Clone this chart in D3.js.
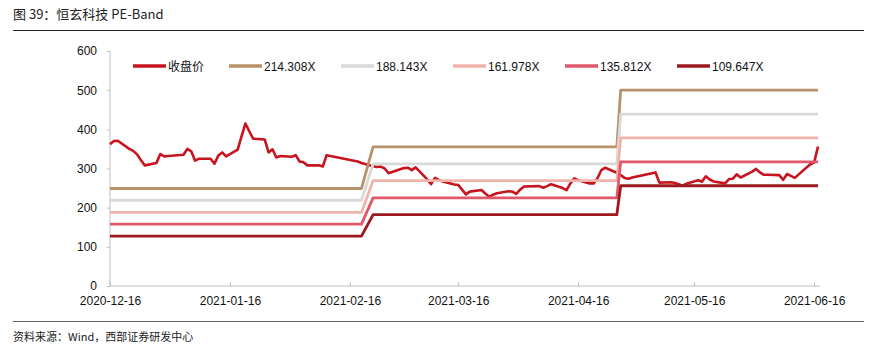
<!DOCTYPE html>
<html><head><meta charset="utf-8">
<script src="https://cdn.jsdelivr.net/npm/d3@7"></script>
<style>body{margin:0;background:#fff}svg{display:block}</style>
</head><body><svg id="c" width="877" height="357"></svg>
<script>
// ---- data ----
const closeDates = ["2020-12-16","2020-12-17","2020-12-18","2020-12-21","2020-12-22","2020-12-23","2020-12-24","2020-12-25","2020-12-28","2020-12-29","2020-12-30","2020-12-31",
"2021-01-04","2021-01-05","2021-01-06","2021-01-07","2021-01-08","2021-01-11","2021-01-12","2021-01-13","2021-01-14","2021-01-15","2021-01-18","2021-01-19","2021-01-20","2021-01-21","2021-01-22","2021-01-25","2021-01-26","2021-01-27","2021-01-28","2021-01-29",
"2021-02-01","2021-02-02","2021-02-03","2021-02-04","2021-02-05","2021-02-08","2021-02-09","2021-02-10","2021-02-18","2021-02-19","2021-02-22","2021-02-23","2021-02-24","2021-02-25","2021-02-26",
"2021-03-01","2021-03-02","2021-03-03","2021-03-04","2021-03-05","2021-03-08","2021-03-09","2021-03-10","2021-03-11","2021-03-12","2021-03-15","2021-03-16","2021-03-17","2021-03-18","2021-03-19","2021-03-22","2021-03-23","2021-03-24","2021-03-25","2021-03-26","2021-03-29","2021-03-30","2021-03-31",
"2021-04-01","2021-04-02","2021-04-06","2021-04-07","2021-04-08","2021-04-09","2021-04-12","2021-04-13","2021-04-14","2021-04-15","2021-04-16","2021-04-19","2021-04-20","2021-04-21","2021-04-22","2021-04-23","2021-04-26","2021-04-27","2021-04-28","2021-04-29","2021-04-30",
"2021-05-06","2021-05-07","2021-05-10","2021-05-11","2021-05-12","2021-05-13","2021-05-14","2021-05-17","2021-05-18","2021-05-19","2021-05-20","2021-05-21","2021-05-24","2021-05-25","2021-05-26","2021-05-27","2021-05-28","2021-05-31",
"2021-06-01","2021-06-02","2021-06-03","2021-06-04","2021-06-07","2021-06-08","2021-06-09","2021-06-10","2021-06-11","2021-06-15","2021-06-16","2021-06-17"];
const closeValues = [362,370,371,350,345,336,321,308,314,337,331,332,
335,350,344,320,325,325,312,333,341,331,348,382,415,395,376,374,341,349,328,332,
330,334,318,316,308,308,305,334,318,314,306,304,305,300,288,
298,301,302,296,303,272,260,276,271,267,259,258,246,234,241,245,236,228,233,237,242,241,235,
246,254,255,251,255,260,250,245,262,275,270,262,262,275,296,302,289,283,276,274,277,
290,264,265,263,260,256,261,270,266,280,272,267,262,273,274,285,277,292,
299,290,284,284,283,271,286,281,276,311,315,356];

const bandNames = ["214.308X","188.143X","161.978X","135.812X","109.647X"];
const bandDates = ["2020-12-16","2021-02-19","2021-02-22","2021-04-26","2021-04-27","2021-06-17"];
const band214 = [249, 355, 500];
const band188 = [219, 312, 439];
const band162 = [188, 269, 378];
const band136 = [158, 225, 317];
const band110 = [127.5, 182, 256];
const bandLevels = [band214, band188, band162, band136, band110];
const bandColors = ["#b8926a","#d9d9d9","#f0b4aa","#e0596a","#9c1a1f"];
const closeName = "收盘价";
const closeColor = "#c8141f";

const yTicks = [0,100,200,300,400,500,600];
const xTicks = ["2020-12-16","2021-01-16","2021-02-16","2021-03-16","2021-04-16","2021-05-16","2021-06-16"];

// ---- drawing ----
const parse = d3.timeParse("%Y-%m-%d");
const fmt = d3.timeFormat("%Y-%m-%d");
const svg = d3.select("#c");
const font = "'Liberation Sans', Arial, 'Noto Sans CJK SC', sans-serif";
const cjk = "'Noto Sans CJK SC', sans-serif";

const x = d3.scaleTime().domain([parse("2020-12-16"), parse("2021-06-17")]).range([110, 818]);
const y = d3.scaleLinear().domain([0, 600]).range([286, 51]);

// title
svg.append("text").attr("x", 13).attr("y", 19).attr("font-family", cjk).attr("font-size", 13)
  .attr("fill", "#222").text("图 39：恒玄科技 PE-Band");
svg.append("line").attr("x1", 13).attr("x2", 864).attr("y1", 30.5).attr("y2", 30.5)
  .attr("stroke", "#222").attr("stroke-width", 1);
svg.append("line").attr("x1", 13).attr("x2", 864).attr("y1", 321.5).attr("y2", 321.5)
  .attr("stroke", "#666").attr("stroke-width", 1.2);
svg.append("text").attr("x", 13).attr("y", 341).attr("font-family", cjk).attr("font-size", 11)
  .attr("fill", "#222").text("资料来源：Wind，西部证券研发中心");

// axes
const yAxis = d3.axisLeft(y).tickValues(yTicks).tickSize(3).tickPadding(10).tickFormat(d3.format("d"));
const gy = svg.append("g").attr("transform", "translate(110,0)").call(yAxis);
gy.select(".domain").attr("stroke", "#bfbfbf").attr("d", "M0,51V286");
gy.selectAll(".tick line").attr("stroke", "#bfbfbf");
gy.selectAll("text").attr("font-family", font).attr("font-size", 12).attr("fill", "#111");

const xAxis = d3.axisBottom(x).tickValues(xTicks.map(parse)).tickSize(-4).tickPadding(10).tickFormat(fmt);
const gx = svg.append("g").attr("transform", "translate(0,286)").call(xAxis);
gx.select(".domain").attr("stroke", "#bfbfbf").attr("d", "M110,0H820");
gx.selectAll(".tick line").attr("stroke", "#bfbfbf");
gx.selectAll("text").attr("font-family", font).attr("font-size", 12).attr("fill", "#111").attr("dy", "0.71em");

// lines
const line = d3.line().x(d => x(d[0])).y(d => y(d[1]));
const closeData = closeDates.map((d, i) => [parse(d), closeValues[i]]);
svg.append("path").datum(closeData).attr("d", line).attr("fill", "none")
  .attr("stroke", closeColor).attr("stroke-width", 2.6).attr("stroke-linejoin", "round");

bandLevels.forEach((lv, k) => {
  const pts = bandDates.map((d, i) => [parse(d), lv[Math.floor(i / 2)]]);
  svg.append("path").datum(pts).attr("d", line).attr("fill", "none")
    .attr("stroke", bandColors[k]).attr("stroke-width", 2.8).attr("stroke-linejoin", "round");
});

// legend
const legendItems = [{name: closeName, color: closeColor, x: 133}].concat(
  bandNames.map((n, i) => ({name: n, color: bandColors[i], x: [229, 341, 453, 565, 677][i]})));
const lg = svg.append("g");
legendItems.forEach(it => {
  lg.append("line").attr("x1", it.x).attr("x2", it.x + 33).attr("y1", 66).attr("y2", 66)
    .attr("stroke", it.color).attr("stroke-width", 3.5);
  lg.append("text").attr("x", it.x + 35).attr("y", 70.5)
    .attr("font-family", it.name === closeName ? cjk : font).attr("font-size", 12)
    .attr("fill", "#111").text(it.name);
});
</script>
</body></html>
